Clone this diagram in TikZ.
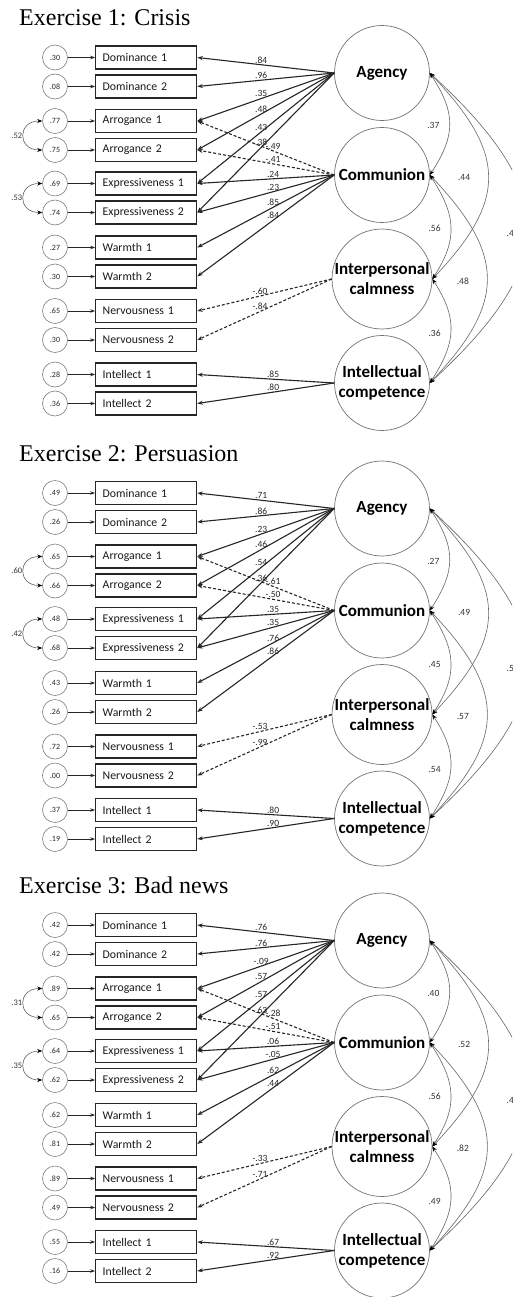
\documentclass[tikz,border=0pt]{standalone}
\usepackage{fontspec}
\setmainfont{Liberation Serif}
\newfontfamily\calfont{Carlito}
\usetikzlibrary{arrows.meta}

\tikzset{
 obs/.style={draw=black!85, line width=1.1pt, minimum height=23pt, text width=87pt, inner xsep=7pt, inner ysep=0pt, align=left, font=\calfont\fontsize{11.8}{13}\selectfont, text=black!90},
 res/.style={circle, draw=black!50, line width=0.6pt, minimum size=25pt, inner sep=0pt, font=\calfont\fontsize{8}{9}\selectfont, text=black!85},
 lat/.style={circle, draw=black!55, line width=0.7pt, minimum size=95pt, inner sep=0pt, align=center, font=\calfont\bfseries\fontsize{17}{20}\selectfont},
 extitle/.style={anchor=base west, inner sep=0pt, font=\fontsize{24}{28}\selectfont},
 resarr/.style={line width=0.9pt, draw=black!85, -{Stealth[length=5pt,width=3.5pt]}},
 load/.style={line width=1.1pt, draw=black!85, -{Stealth[length=5.5pt,width=4pt]}},
 loaddash/.style={load, dash pattern=on 3pt off 2pt},
 lbl/.style={anchor=south, inner sep=1pt, font=\calfont\fontsize{9.5}{10}\selectfont, text=black!85},
 corrarc/.style={line width=0.6pt, draw=black!60, {Stealth[length=5pt,width=4pt,color=black]}-{Stealth[length=5pt,width=4pt,color=black]}},
 clbl/.style={inner sep=1pt, font=\calfont\fontsize{9.5}{10}\selectfont, text=black!80},
 llbl/.style={inner sep=1pt, font=\calfont\fontsize{8.5}{10}\selectfont, text=black!80},
}

\def\latof#1{\ifcase#1\or A\or A\or A\or A\or A\or A\or C\or C\or C\or C\or C\or C\or I\or I\or K\or K\fi}
\def\rowof#1{\ifcase#1\or 1\or 2\or 3\or 4\or 5\or 6\or 3\or 4\or 5\or 6\or 7\or 8\or 9\or 10\or 11\or 12\fi}
\def\styof#1{\ifcase#1\or load\or load\or load\or load\or load\or load\or loaddash\or loaddash\or load\or load\or load\or load\or loaddash\or loaddash\or load\or load\fi}
\def\posof#1{\ifcase#1\or .533\or .533\or .533\or .533\or .533\or .533\or .446\or .446\or .446\or .446\or .446\or .446\or .533\or .533\or .446\or .446\fi}

\newcommand\sempanel[3]{%
  \node[extitle] (#1title) at (19,26) {#2};
  \foreach \lab [count=\rr] in {Dominance 1,Dominance 2,Arrogance 1,Arrogance 2,Expressiveness 1,Expressiveness 2,Warmth 1,Warmth 2,Nervousness 1,Nervousness 2,Intellect 1,Intellect 2}{
    \pgfmathsetmacro\yy{{57.5,86.5,121,150,183.5,212.5,247.5,276.5,311,340,374.5,403.5}[\rr-1]}
    \node[obs] (#1o\rr) at (146.2,\yy) {\lab};
  }
  \foreach \v [count=\rr] in {#3}{
    \path (#1o\rr) ++(-91.2,0) node[res] (#1e\rr) {\v};
    \draw[resarr] (#1e\rr) -- (#1o\rr);
  }
  \node[lat] (#1A) at (382,73) {Agency};
  \node[lat] (#1C) at (382,175) {Communion};
  \node[lat] (#1I) at (382,279) {Interpersonal\\calmness};
  \node[lat] (#1K) at (382,383) {Intellectual\\competence};
}

\newcommand\semload[2]{%
  \foreach \lb [count=\kk] in {#2}{
    \edef\myLat{\latof{\kk}}\edef\myRow{\rowof{\kk}}\edef\mySty{\styof{\kk}}\edef\myPos{\posof{\kk}}
    \draw[\mySty] (#1\myLat.west) -- (#1o\myRow.east) node[lbl,pos=\myPos]{\lb};
  }
}

\newcommand\semleft[3]{%
  \draw[corrarc] (#1e3.west) .. controls +(-25,0) and +(-25,0) .. (#1e4.west) node[llbl,pos=.5,left]{#2};
  \draw[corrarc] (#1e5.west) .. controls +(-25,0) and +(-25,0) .. (#1e6.west) node[llbl,pos=.5,left]{#3};
}

\newcommand\semlat[7]{%
  \draw[corrarc] (#1A.east) .. controls +(26,40) and +(26,-40) .. (#1C.east) node[clbl,pos=.5,xshift=-16pt,yshift=-1.5pt]{#2};
  \draw[corrarc] (#1C.east) .. controls +(26,40) and +(26,-40) .. (#1I.east) node[clbl,pos=.5,xshift=-16pt,yshift=-1.5pt]{#3};
  \draw[corrarc] (#1I.east) .. controls +(26,40) and +(26,-40) .. (#1K.east) node[clbl,pos=.5,xshift=-16pt,yshift=-2.5pt]{#4};
  \draw[corrarc] (#1A.east) .. controls +(76,80) and +(76,-80) .. (#1I.east) node[clbl,pos=.5,xshift=-24pt,yshift=-1pt]{#5};
  \draw[corrarc] (#1C.east) .. controls +(76,80) and +(76,-80) .. (#1K.east) node[clbl,pos=.5,xshift=-24pt,yshift=-2pt]{#6};
  \draw[corrarc] (#1A.east) .. controls +(130,120) and +(130,-120) .. (#1K.east) node[clbl,pos=.5,anchor=west,xshift=-22pt,yshift=-5pt]{#7};
}

\begin{document}
\begin{tikzpicture}[x=1pt,y=-1pt]
\useasboundingbox (0,0) rectangle (512,1297);
\clip (0,0) rectangle (512,1297);

\begin{scope}
\sempanel{p}{Exercise 1: Crisis}{.30,.08,.77,.75,.69,.74,.27,.30,.65,.30,.28,.36}
\semload{p}{.84,.96,.35,.48,.43,.38,-.49,-.41,.24,.23,.85,.84,-.60,-.84,.85,.80}
\semleft{p}{.52}{.53}
\semlat{p}{.37}{.56}{.36}{.44}{.48}{.4}
\end{scope}

\begin{scope}[shift={(0,435.5)}]
\sempanel{q}{Exercise 2: Persuasion}{.49,.26,.65,.66,.48,.68,.43,.26,.72,.00,.37,.19}
\semload{q}{.71,.86,.23,.46,.54,.36,-.61,-.50,.35,.35,.76,.86,-.53,-.99,.80,.90}
\semleft{q}{.60}{.42}
\semlat{q}{.27}{.45}{.54}{.49}{.57}{.5}
\end{scope}

\begin{scope}[shift={(0,867.5)}]
\sempanel{r}{Exercise 3: Bad news}{.42,.42,.89,.65,.64,.62,.62,.81,.89,.49,.55,.16}
\semload{r}{.76,.76,-.09,.57,.57,.63,-.28,-.51,.06,-.05,.62,.44,-.33,-.71,.67,.92}
\semleft{r}{.31}{.35}
\semlat{r}{.40}{.56}{.49}{.52}{.82}{.4}
\end{scope}
\end{tikzpicture}
\end{document}
